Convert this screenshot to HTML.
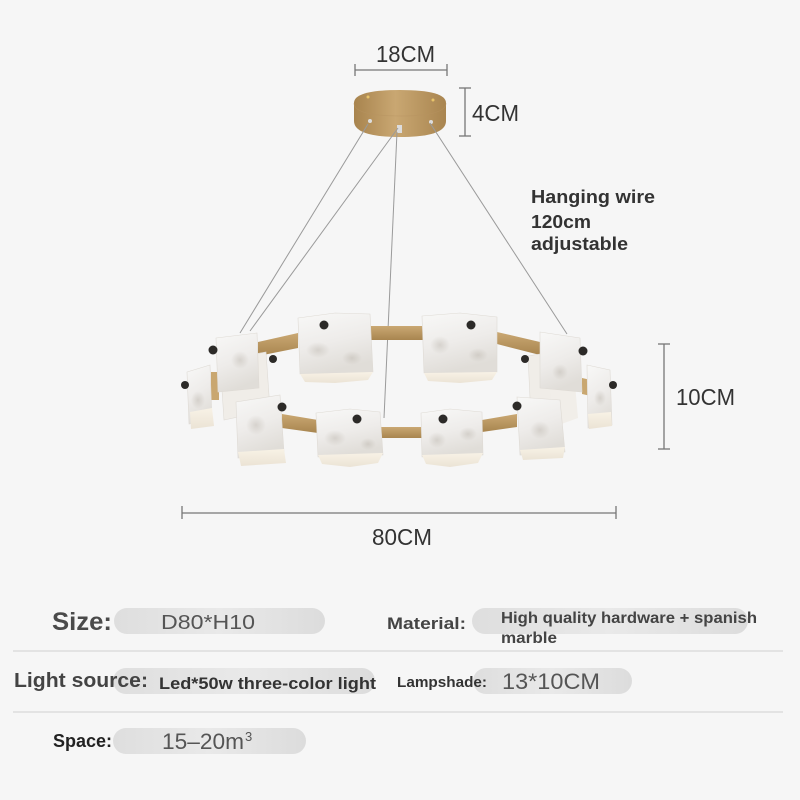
<!DOCTYPE html>
<html><head><meta charset="utf-8"><style>
html,body{margin:0;padding:0;background:#f6f6f6;}
svg{display:block;}
</style></head><body>
<svg width="800" height="800" viewBox="0 0 800 800" xmlns="http://www.w3.org/2000/svg">
<defs>
<linearGradient id="gold" x1="0" y1="0" x2="1" y2="0">
<stop offset="0" stop-color="#a8844e"/><stop offset="0.45" stop-color="#c9a772"/><stop offset="1" stop-color="#a98550"/>
</linearGradient>
<linearGradient id="band" x1="0" y1="0" x2="0" y2="1">
<stop offset="0" stop-color="#caa873"/><stop offset="1" stop-color="#a8854f"/>
</linearGradient>
<linearGradient id="face" x1="0" y1="0" x2="0.3" y2="1">
<stop offset="0" stop-color="#f8f8f7"/><stop offset="0.55" stop-color="#eeecea"/><stop offset="1" stop-color="#e0ddd8"/>
</linearGradient>
<linearGradient id="bot" x1="0" y1="0" x2="0" y2="1">
<stop offset="0" stop-color="#f8f2e6"/><stop offset="1" stop-color="#ebe3d5"/>
</linearGradient>
<linearGradient id="pill" x1="0" y1="0" x2="1" y2="0">
<stop offset="0" stop-color="#dedede"/><stop offset="0.5" stop-color="#e9e9e9"/><stop offset="1" stop-color="#dcdcdc"/>
</linearGradient>
<radialGradient id="blot">
<stop offset="0" stop-color="#b9b3aa" stop-opacity="0.45"/><stop offset="1" stop-color="#b9b3aa" stop-opacity="0"/>
</radialGradient>
</defs>
<rect width="800" height="800" fill="#f6f6f6"/>

<!-- 18CM -->
<text x="376" y="62" font-family="Liberation Sans, sans-serif" font-size="23" fill="#333" textLength="59" lengthAdjust="spacingAndGlyphs">18CM</text>
<g stroke="#777" stroke-width="1.3" fill="none">
<line x1="355" y1="70" x2="447" y2="70"/><line x1="355" y1="64" x2="355" y2="76"/><line x1="447" y1="64" x2="447" y2="76"/>
<line x1="465" y1="88" x2="465" y2="136"/><line x1="459" y1="88" x2="471" y2="88"/><line x1="459" y1="136" x2="471" y2="136"/>
<line x1="664" y1="344" x2="664" y2="449"/><line x1="658" y1="344" x2="670" y2="344"/><line x1="658" y1="449" x2="670" y2="449"/>
<line x1="182" y1="513" x2="616" y2="513"/><line x1="182" y1="506" x2="182" y2="519"/><line x1="616" y1="506" x2="616" y2="519"/>
</g>
<text x="472" y="121" font-family="Liberation Sans, sans-serif" font-size="23" fill="#333" textLength="47" lengthAdjust="spacingAndGlyphs">4CM</text>
<text x="676" y="405" font-family="Liberation Sans, sans-serif" font-size="23" fill="#333" textLength="59" lengthAdjust="spacingAndGlyphs">10CM</text>
<text x="372" y="545" font-family="Liberation Sans, sans-serif" font-size="23" fill="#333" textLength="60" lengthAdjust="spacingAndGlyphs">80CM</text>

<!-- Hanging wire text -->
<g font-family="Liberation Sans, sans-serif" font-size="18" font-weight="bold" fill="#333">
<text x="531" y="203" textLength="124" lengthAdjust="spacingAndGlyphs">Hanging wire</text>
<text x="531" y="228" textLength="60" lengthAdjust="spacingAndGlyphs">120cm</text>
<text x="531" y="250" textLength="97" lengthAdjust="spacingAndGlyphs">adjustable</text>
</g>

<!-- Canopy -->
<path d="M354,103 Q354,90 400,90 Q446,90 446,103 L446,121 Q446,137 400,137 Q354,137 354,121 Z" fill="url(#gold)"/>
<path d="M354,103 Q354,116 400,116 Q446,116 446,103" fill="none" stroke="#b89461" stroke-width="0.8" opacity="0.5"/>
<circle cx="368" cy="97" r="1.5" fill="#e8c46a"/><circle cx="433" cy="100" r="1.5" fill="#e8c46a"/>
<rect x="397" y="125" width="5" height="8" fill="#ddd"/>
<circle cx="370" cy="121" r="2" fill="#ddd"/><circle cx="431" cy="122" r="2" fill="#ddd"/>

<!-- Wires -->
<g stroke="#9a9a9a" stroke-width="1" fill="none">
<line x1="368" y1="124" x2="240" y2="333"/>
<line x1="398" y1="128" x2="250" y2="331"/>
<line x1="397" y1="132" x2="384" y2="418"/>
<line x1="430" y1="123" x2="567" y2="334"/>
</g>

<!-- back bands -->
<polygon points="258,342 298,333 298,348 258,356" fill="url(#band)"/>
<polygon points="368,326 424,326 424,340 368,340" fill="url(#band)"/>
<polygon points="497,332 540,342 540,355 497,344" fill="url(#band)"/>
<polygon points="211,372 219,372 219,400 211,400" fill="#c9a770"/>
<polygon points="582,378 591,380 591,396 582,394" fill="#c9a770"/>

<!-- back cubes -->
<polygon points="298,318 335,313 370,314 373,372 300,374" fill="url(#face)" stroke="#dedad4" stroke-width="0.6"/>
<ellipse cx="318" cy="350" rx="12" ry="8" fill="url(#blot)"/>
<ellipse cx="352" cy="358" rx="10" ry="7" fill="url(#blot)"/>
<polygon points="300,374 373,372 368,380 335,383 305,382" fill="url(#bot)"/>
<polygon points="422,316 460,313 497,317 497,372 424,373" fill="url(#face)" stroke="#dedad4" stroke-width="0.6"/>
<ellipse cx="440" cy="345" rx="10" ry="9" fill="url(#blot)"/>
<ellipse cx="478" cy="355" rx="10" ry="7" fill="url(#blot)"/>
<polygon points="424,373 497,372 492,380 460,383 428,381" fill="url(#bot)"/>

<!-- left cluster -->
<polygon points="220,360 266,352 270,410 224,420" fill="#f0ede8" stroke="#dfdbd5" stroke-width="0.6"/>
<polygon points="216,338 257,333 259,388 218,392" fill="url(#face)" stroke="#dedad4" stroke-width="0.6"/>
<ellipse cx="240" cy="360" rx="9" ry="9" fill="url(#blot)"/>
<polygon points="187,372 210,365 212,420 189,424" fill="url(#face)" stroke="#dedad4" stroke-width="0.6"/>
<ellipse cx="198" cy="400" rx="7" ry="9" fill="url(#blot)"/>
<polygon points="190,412 212,408 214,426 191,429" fill="url(#bot)"/>

<!-- right cluster -->
<polygon points="528,356 552,352 556,402 530,398" fill="#f0ede8" stroke="#dfdbd5" stroke-width="0.6"/>
<polygon points="550,390 575,384 578,418 556,426" fill="#f1eee9"/>
<polygon points="540,332 580,338 582,392 540,388" fill="url(#face)" stroke="#dedad4" stroke-width="0.6"/>
<ellipse cx="560" cy="372" rx="8" ry="8" fill="url(#blot)"/>
<polygon points="587,365 610,370 612,425 588,428" fill="url(#face)" stroke="#dedad4" stroke-width="0.6"/>
<ellipse cx="600" cy="398" rx="6" ry="8" fill="url(#blot)"/>
<polygon points="588,414 611,412 612,426 589,429" fill="url(#bot)"/>

<!-- front bands -->
<polygon points="282,414 318,420 318,433 282,428" fill="url(#band)"/>
<polygon points="380,427 423,427 423,438 380,438" fill="url(#band)"/>
<polygon points="482,420 517,414 517,427 482,432" fill="url(#band)"/>

<!-- front cubes -->
<polygon points="236,402 280,395 284,452 238,458" fill="url(#face)" stroke="#dedad4" stroke-width="0.6"/>
<ellipse cx="256" cy="425" rx="10" ry="10" fill="url(#blot)"/>
<polygon points="238,452 284,449 286,463 241,466" fill="url(#bot)"/>
<polygon points="517,397 560,400 565,452 520,455" fill="url(#face)" stroke="#dedad4" stroke-width="0.6"/>
<ellipse cx="540" cy="430" rx="10" ry="9" fill="url(#blot)"/>
<polygon points="520,450 565,447 563,458 523,460" fill="url(#bot)"/>
<polygon points="316,413 350,409 380,412 383,455 318,457" fill="url(#face)" stroke="#dedad4" stroke-width="0.6"/>
<ellipse cx="335" cy="438" rx="11" ry="8" fill="url(#blot)"/>
<ellipse cx="368" cy="444" rx="8" ry="6" fill="url(#blot)"/>
<polygon points="318,455 383,453 378,463 350,467 322,464" fill="url(#bot)"/>
<polygon points="421,413 450,409 482,412 483,455 422,457" fill="url(#face)" stroke="#dedad4" stroke-width="0.6"/>
<ellipse cx="437" cy="440" rx="9" ry="8" fill="url(#blot)"/>
<ellipse cx="468" cy="434" rx="9" ry="7" fill="url(#blot)"/>
<polygon points="422,455 483,453 478,463 450,467 426,464" fill="url(#bot)"/>

<!-- knobs -->
<g fill="#2c2a28">
<circle cx="324" cy="325" r="4.5"/><circle cx="471" cy="325" r="4.5"/>
<circle cx="213" cy="350" r="4.5"/><circle cx="273" cy="359" r="4"/>
<circle cx="185" cy="385" r="4"/><circle cx="282" cy="407" r="4.5"/>
<circle cx="357" cy="419" r="4.5"/><circle cx="443" cy="419" r="4.5"/>
<circle cx="517" cy="406" r="4.5"/><circle cx="583" cy="351" r="4.5"/>
<circle cx="525" cy="359" r="4"/><circle cx="613" cy="385" r="4"/>
</g>

<!-- Bottom table -->
<line x1="13" y1="651" x2="783" y2="651" stroke="#e3e3e3" stroke-width="2"/>
<line x1="13" y1="712" x2="783" y2="712" stroke="#e3e3e3" stroke-width="2"/>

<rect x="114" y="608" width="211" height="26" rx="13" fill="url(#pill)"/>
<rect x="472" y="608" width="276" height="26" rx="13" fill="url(#pill)"/>
<rect x="113" y="668" width="262" height="26" rx="13" fill="url(#pill)"/>
<rect x="473" y="668" width="159" height="26" rx="13" fill="url(#pill)"/>
<rect x="113" y="728" width="193" height="26" rx="13" fill="url(#pill)"/>

<g font-family="Liberation Sans, sans-serif" font-weight="bold">
<text x="52" y="630" font-size="25" fill="#4a4a4a" textLength="60" lengthAdjust="spacingAndGlyphs">Size:</text>
<text x="387" y="629" font-size="17" fill="#444" textLength="79" lengthAdjust="spacingAndGlyphs">Material:</text>
<text x="501" y="623" font-size="16" fill="#444" textLength="256" lengthAdjust="spacingAndGlyphs">High quality hardware + spanish</text>
<text x="501" y="643" font-size="16" fill="#444" textLength="56" lengthAdjust="spacingAndGlyphs">marble</text>
<text x="14" y="687" font-size="20" fill="#444" textLength="134" lengthAdjust="spacingAndGlyphs">Light source:</text>
<text x="159" y="689" font-size="17" fill="#333" textLength="217" lengthAdjust="spacingAndGlyphs">Led*50w three-color light</text>
<text x="397" y="687" font-size="15" fill="#333" textLength="90" lengthAdjust="spacingAndGlyphs">Lampshade:</text>
<text x="53" y="747" font-size="18" fill="#222" textLength="59" lengthAdjust="spacingAndGlyphs">Space:</text>
</g>
<g font-family="Liberation Sans, sans-serif" fill="#555">
<text x="161" y="629" font-size="20" textLength="94" lengthAdjust="spacingAndGlyphs">D80*H10</text>
<text x="502" y="689" font-size="22" textLength="98" lengthAdjust="spacingAndGlyphs">13*10CM</text>
<text x="162" y="749" font-size="22" textLength="82" lengthAdjust="spacingAndGlyphs">15–20m</text>
<text x="245" y="741" font-size="13">3</text>
</g>
</svg>
</body></html>
